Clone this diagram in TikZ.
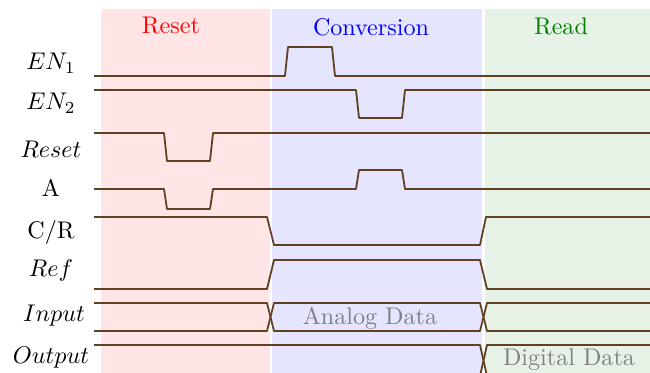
\documentclass[tikz,border=0pt]{standalone}
\usepackage{amsmath}
\usepackage{tikz}
\usetikzlibrary{positioning}

\begin{document}
\begin{tikzpicture}[
    x=0.415pt, y=-0.415pt,
    sig/.style={line width=0.75pt, draw=brown!50!black, line join=round},
    lbl/.style={anchor=center},
    phase/.style={font=\normalsize},
    busnote/.style={text=gray}
]
\useasboundingbox (0,0) rectangle (650,373);

% phases
\fill[red!10] (101,9) rectangle (270,380);
\fill[blue!10] (272,9) rectangle (482,380);
\fill[green!50!black!10] (485,9) rectangle (650,380);
\node[phase, text=red] (preset) at (171,26) {Reset};
\node[phase, text=blue] (pconv) at (371,27) {Conversion};
\node[phase, text=green!50!black] (pread) at (561,26) {Read};

% signal names
\node[lbl] (nen1) at (51,63) {$EN_1$};
\node[lbl] (nen2) at (51,103) {$EN_2$};
\node[lbl] (nrst) at (51,149) {$Reset$};
\node[lbl] (na) at (51,188) {A};
\node[lbl] (ncr) at (51,232) {C/R};
\node[lbl] (nref) at (51,270) {$Ref$};
\node[lbl] (nin) at (54,316) {$Input$};
\node[lbl] (nout) at (51,358) {$Output$};

% waveforms
\draw[sig] (94,76) -- (285,76) -- (288,47) -- (332,47) -- (335,76) -- (650,76);
\draw[sig] (94,90) -- (356,90) -- (359,118) -- (402,118) -- (405,90) -- (650,90);
\draw[sig] (94,133) -- (164,133) -- (167,161) -- (210,161) -- (213,133) -- (650,133);
\draw[sig] (94,189) -- (164,189) -- (167,209) -- (210,209) -- (213,189)
    -- (356,189) -- (359,170) -- (402,170) -- (405,189) -- (650,189);
\draw[sig] (94,217) -- (267,217) -- (274,245) -- (480,245) -- (486,217) -- (650,217);
\draw[sig] (94,289) -- (267,289) -- (274,260) -- (480,260) -- (487,289) -- (650,289);

% buses
\draw[sig] (94,303) -- (267,303) -- (274,331) -- (480,331) -- (487,303) -- (650,303);
\draw[sig] (94,331) -- (267,331) -- (274,303) -- (480,303) -- (487,331) -- (650,331);
\node[busnote] (adata) at (370,318) {Analog Data};

\draw[sig] (94,345) -- (480,345) -- (487,376) -- (650,376);
\draw[sig] (94,376) -- (480,376) -- (487,345) -- (650,345);
\node[busnote] (ddata) at (569,360) {Digital Data};

\end{tikzpicture}
\end{document}
